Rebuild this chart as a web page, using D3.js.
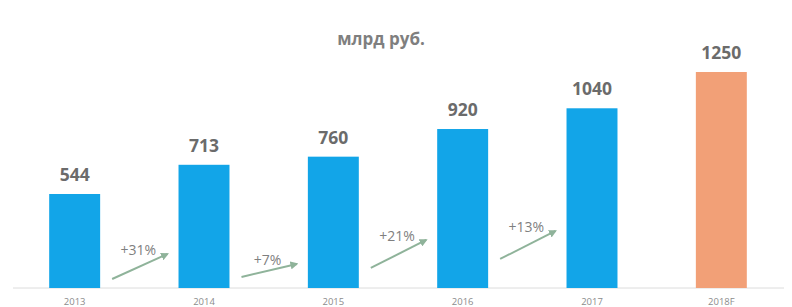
<!DOCTYPE html>
<html>
<head>
<meta charset="utf-8">
<script src="https://cdn.jsdelivr.net/npm/d3@7"></script>
<style>
  body { margin: 0; background: #fff; }
  svg { display: block; font-family: "Open Sans", "DejaVu Sans", sans-serif; }
</style>
</head>
<body>
<div id="chart"></div>
<script>
// data
var years = ["2013", "2014", "2015", "2016", "2017", "2018F"];
var values = [544, 713, 760, 920, 1040, 1250];
var growth = ["+31%", "+7%", "+21%", "+13%"];
// arrow ends, in chart units (start level, end level)
var arrowFrom = [52, 64, 116, 168];
var arrowTo = [197, 139, 278, 330];
var unitLabel = "млрд руб.";

var width = 792, height = 307;

var svg = d3.select("#chart")
    .append("svg")
    .attr("width", width)
    .attr("height", height);

var x = d3.scaleBand()
    .domain(years)
    .range([10, 786])
    .paddingInner(0.606)
    .paddingOuter(0.303);

var y = d3.scaleLinear()
    .domain([0, 1250])
    .range([288, 72]);

// title
svg.append("text")
    .attr("x", 381)
    .attr("y", 45)
    .attr("text-anchor", "middle")
    .attr("font-size", 17)
    .attr("font-weight", "bold")
    .attr("fill", "#7f7f7f")
    .text(unitLabel);

// baseline
svg.append("line")
    .attr("x1", 13).attr("x2", 784)
    .attr("y1", y(0)).attr("y2", y(0))
    .attr("stroke", "#dcdcdc")
    .attr("stroke-width", 1);

// bars
svg.selectAll("rect.bar")
    .data(values)
    .enter()
    .append("rect")
    .attr("class", "bar")
    .attr("x", function(d, i) { return x(years[i]); })
    .attr("y", function(d) { return y(d); })
    .attr("width", x.bandwidth())
    .attr("height", function(d) { return y(0) - y(d); })
    .attr("fill", function(d, i) { return years[i].indexOf("F") > -1 ? "#f2a077" : "#12a5e8"; });

// value labels
svg.selectAll("text.val")
    .data(values)
    .enter()
    .append("text")
    .attr("class", "val")
    .attr("x", function(d, i) { return x(years[i]) + x.bandwidth() / 2; })
    .attr("y", function(d) { return y(d) - 13; })
    .attr("text-anchor", "middle")
    .attr("font-size", 17.5)
    .attr("font-weight", "bold")
    .attr("fill", "#6b6b6b")
    .text(function(d) { return d; });

// year labels (x axis without domain/ticks)
var xAxis = svg.append("g")
    .attr("transform", "translate(0," + y(0) + ")")
    .call(d3.axisBottom(x).tickSize(0).tickPadding(10));
xAxis.select(".domain").remove();
xAxis.selectAll("text")
    .attr("font-family", "\"Open Sans\", sans-serif")
    .attr("font-size", 9.5)
    .attr("fill", "#8c8c8c");

// growth arrows
svg.append("defs").append("marker")
    .attr("id", "head")
    .attr("viewBox", "0 0 10 10")
    .attr("refX", 8).attr("refY", 5)
    .attr("markerWidth", 4).attr("markerHeight", 4)
    .attr("orient", "auto")
    .append("path")
    .attr("d", "M0,0L10,5L0,10z")
    .attr("fill", "#8fb39a");

var arrows = svg.selectAll("g.arrow")
    .data(growth)
    .enter()
    .append("g")
    .attr("class", "arrow");

arrows.append("line")
    .attr("x1", function(d, i) { return x(years[i]) + x.bandwidth() + 12; })
    .attr("x2", function(d, i) { return x(years[i + 1]) - 11; })
    .attr("y1", function(d, i) { return y(arrowFrom[i]); })
    .attr("y2", function(d, i) { return y(arrowTo[i]); })
    .attr("stroke", "#8fb39a")
    .attr("stroke-width", 2)
    .attr("marker-end", "url(#head)");

arrows.append("text")
    .attr("x", function(d, i) {
        return (x(years[i]) + x.bandwidth() + x(years[i + 1])) / 2 - 1;
    })
    .attr("y", function(d, i) { return y(Math.max(arrowFrom[i], arrowTo[i])) + 1; })
    .attr("text-anchor", "middle")
    .attr("font-size", 14)
    .attr("fill", "#7f7f7f")
    .text(function(d) { return d; });
</script>
</body>
</html>
